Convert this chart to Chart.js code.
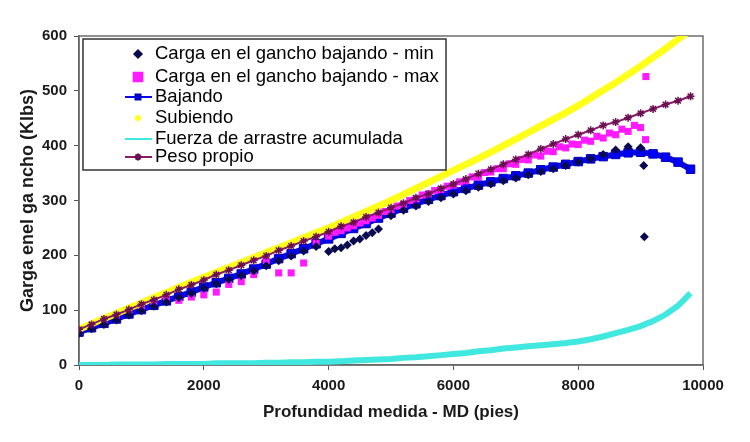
<!DOCTYPE html>
<html>
<head>
<meta charset="utf-8">
<script src="https://cdn.jsdelivr.net/npm/chart.js@4.4.1/dist/chart.umd.min.js"></script>
<style>
  html, body { margin: 0; padding: 0; background: #ffffff; }
  #wrap { width: 750px; height: 442px; }
</style>
</head>
<body>
<div id="wrap"><canvas id="c" width="750" height="442"></canvas></div>
<script>
// ---- data ----
const depth = [0,200,400,600,800,1000,1200,1400,1600,1800,2000,2200,2400,2600,2800,3000,3200,3400,3600,3800,4000,4200,4400,4600,4800,5000,5200,5400,5600,5800,6000,6200,6400,6600,6800,7000,7200,7400,7600,7800,8000,8200,8400,8600,8800,9000,9200,9400,9600,9800];

const bajando = [60,68,76,84,93,101,109,117,125,133,142,150,158,166,175,184,194,203,212,221,230,240,249,258,268,277,286,294,302,309,316,322,328,334,340,345,350,356,361,366,371,376,380,384,387,388,385,379,370,357];

const subiendo = [65,75,85,94,104,113,123,132,142,151,160,169,178,187,196,205,214,223,232,241,250,260,270,280,290,300,311,322,333,344,355,366,377,388,400,412,424,436,448,460,473,487,501,515,530,545,561,577,594,611];

const pesoPropio = [65,74,84,92,101,111,119,128,138,146,155,165,173,182,191,199,209,217,226,234,243,253,260,270,278,287,295,305,312,322,330,339,349,357,366,375,384,394,403,412,420,428,437,443,451,459,467,475,482,490];

const arrastre = [0,0,0,1,1,1,1,2,2,2,2,3,3,3,3,4,4,5,5,6,6,7,8,9,10,11,13,14,16,18,20,22,25,27,30,32,34,36,38,40,43,47,52,58,64,71,80,92,108,131];

const minDepth = [0,200,400,600,800,1000,1200,1400,1600,1800,2000,2200,2400,2600,2800,3000,3200,3400,3600,3800,4000,4100,4200,4300,4400,4500,4600,4700,4800,5000,5200,5400,5600,5800,6000,6200,6400,6600,6800,7000,7200,7400,7600,7800,8000,8200,8400,8600,8800,9000,9050,9060];
const minLoad  = [58,66,74,82,91,99,107,115,123,131,140,148,156,163,172,181,190,199,208,216,207,212,214,219,226,230,236,241,248,272,282,290,298,305,312,318,324,330,336,341,347,353,358,364,370,376,384,392,398,396,364,234];

const maxDepth = [0,200,400,600,800,1000,1200,1400,1600,1800,2000,2200,2400,2600,2800,3000,3200,3400,3600,3800,4000,4100,4200,4300,4400,4500,4600,4700,4800,4900,5000,5100,5200,5300,5400,5500,5600,5700,5800,5900,6000,6100,6200,6300,6400,6500,6600,6700,6800,6900,7000,7100,7200,7300,7400,7500,7600,7700,7800,7900,8000,8100,8200,8300,8400,8500,8600,8700,8800,8900,9000,9080,9085];
const maxLoad  = [62,72,80,88,97,106,113,120,118,124,128,133,147,152,165,190,168,168,186,222,235,242,245,250,254,259,263,268,273,280,283,290,293,300,303,310,312,318,320,326,328,334,336,343,343,351,352,358,358,367,366,375,374,383,381,390,389,398,396,403,402,410,408,417,414,423,420,430,426,437,433,411,526];

const xTicks = [0,2000,4000,6000,8000,10000];
const yTicks = [0,100,200,300,400,500,600];

const labels = {
  min: 'Carga en el gancho bajando - min',
  max: 'Carga en el gancho bajando - max',
  baj: 'Bajando',
  sub: 'Subiendo',
  arr: 'Fuerza de arrastre acumulada',
  peso: 'Peso propio'
};
const xTitle = 'Profundidad medida - MD (pies)';
const yTitle = 'Garga enel ga ncho (Klbs)';

// ---- build points ----
const pts = (xs, ys) => xs.map((x, i) => ({x: x, y: ys[i]}));

const datasets = [
  { label: labels.min, data: pts(minDepth, minLoad), showLine: false,
    pointStyle: 'rectRot', pointRadius: 4.5, backgroundColor: '#0a0a50', borderColor: '#0a0a50', borderWidth: 0, order: 2 },
  { label: labels.max, data: pts(maxDepth, maxLoad), showLine: false,
    pointStyle: 'rect', pointRadius: 5, backgroundColor: '#ff1aff', borderColor: '#ff1aff', borderWidth: 0, order: 4 },
  { label: labels.baj, data: pts(depth, bajando), showLine: true,
    borderColor: '#0a0ae6', borderWidth: 6, pointStyle: 'rect', pointRadius: 6, backgroundColor: '#0000ff', pointBorderColor: '#0000b4', pointBorderWidth: 1, order: 5 },
  { label: labels.sub, data: pts(depth, subiendo), showLine: true,
    borderColor: '#ffff1a', borderWidth: 7, pointRadius: 0, backgroundColor: '#ffff1a', order: 3 },
  { label: labels.arr, data: pts(depth, arrastre), showLine: true,
    borderColor: '#40e8e0', borderWidth: 6, pointRadius: 0, backgroundColor: '#40e8e0', order: 6 },
  { label: labels.peso, data: pts(depth, pesoPropio), showLine: true,
    borderColor: '#8a1a6a', borderWidth: 2, pointStyle: 'star', pointRadius: 4, backgroundColor: '#8a1a6a', pointBorderColor: '#6a1050', pointBorderWidth: 1.5, order: 1 }
];

// plot-area frame
const framePlugin = {
  id: 'frame',
  beforeDatasetsDraw(chart) {
    const {ctx, chartArea: a} = chart;
    ctx.save();
    ctx.strokeStyle = '#6e6e6e';
    ctx.lineWidth = 1.5;
    ctx.strokeRect(a.left, a.top, a.right - a.left, a.bottom - a.top);
    ctx.restore();
  }
};

// boxed legend inside the plot area, like the reference
const boxLegend = {
  id: 'boxLegend',
  afterDraw(chart) {
    const ctx = chart.ctx;
    const bx = 83, by = 39, bw = 363, bh = 131;
    ctx.save();
    ctx.fillStyle = '#ffffff';
    ctx.fillRect(bx, by, bw, bh);
    ctx.strokeStyle = '#333333';
    ctx.lineWidth = 1.5;
    ctx.strokeRect(bx, by, bw, bh);
    const rows = [54, 77, 97, 118, 139, 157];
    const symX = 138, textX = 155;
    ctx.font = '18.5px "Liberation Sans", Arial, sans-serif';
    ctx.textBaseline = 'middle';
    ctx.textAlign = 'left';
    chart.data.datasets.forEach((ds, i) => {
      const y = rows[i];
      if (ds.showLine && i !== 3) {
        ctx.strokeStyle = ds.borderColor;
        ctx.lineWidth = 2;
        ctx.beginPath();
        ctx.moveTo(symX - 13, y);
        ctx.lineTo(symX + 14, y);
        ctx.stroke();
      }
      if (i === 3) {
        ctx.fillStyle = ds.backgroundColor;
        ctx.beginPath();
        ctx.arc(symX, y, 3, 0, Math.PI * 2);
        ctx.fill();
      } else if (ds.pointRadius > 0) {
        ctx.fillStyle = ds.backgroundColor;
        ctx.strokeStyle = ds.pointBorderColor || ds.borderColor;
        Chart.helpers.drawPoint(ctx, {
          pointStyle: ds.pointStyle,
          radius: i === 1 ? 6.5 : (i === 0 ? 4 : 3.5),
          borderWidth: 1,
          rotation: 0
        }, symX, y);
      }
      ctx.fillStyle = '#000000';
      ctx.fillText(ds.label, textX, y);
    });
    ctx.restore();
  }
};

const fontFam = '"Liberation Sans", Arial, sans-serif';

new Chart(document.getElementById('c'), {
  type: 'scatter',
  data: { datasets: datasets },
  options: {
    responsive: false,
    animation: false,
    layout: { padding: { left: 0, top: 36, right: 47, bottom: 0 } },
    plugins: {
      legend: { display: false },
      tooltip: { enabled: false },
      title: { display: false }
    },
    scales: {
      x: {
        type: 'linear', min: 0, max: 10000,
        afterBuildTicks: (s) => { s.ticks = xTicks.map(v => ({value: v})); },
        afterFit: (s) => { s.height = 77; },
        grid: { drawOnChartArea: false, drawTicks: true, tickLength: 5, color: '#555555' },
        border: { color: '#555555', width: 1.5 },
        ticks: { color: '#1a1a1a', padding: 7, maxRotation: 0,
                 callback: (v) => String(v),
                 font: { family: fontFam, size: 15, weight: 'bold' } },
        title: { display: true, text: xTitle, color: '#1a1a1a', padding: { top: 0, bottom: 19 },
                 font: { family: fontFam, size: 17, weight: 'bold' } }
      },
      y: {
        type: 'linear', min: 0, max: 600,
        afterBuildTicks: (s) => { s.ticks = yTicks.map(v => ({value: v})); },
        afterFit: (s) => { s.width = 79; },
        grid: { drawOnChartArea: false, drawTicks: true, tickLength: 5, color: '#555555' },
        border: { color: '#555555', width: 1.5 },
        ticks: { color: '#1a1a1a', padding: 7,
                 callback: (v) => String(v),
                 font: { family: fontFam, size: 15, weight: 'bold' } },
        title: { display: true, text: yTitle, color: '#1a1a1a', padding: { top: 17, bottom: 0 },
                 font: { family: fontFam, size: 18, weight: 'bold' } }
      }
    }
  },
  plugins: [framePlugin, boxLegend]
});
</script>
</body>
</html>
